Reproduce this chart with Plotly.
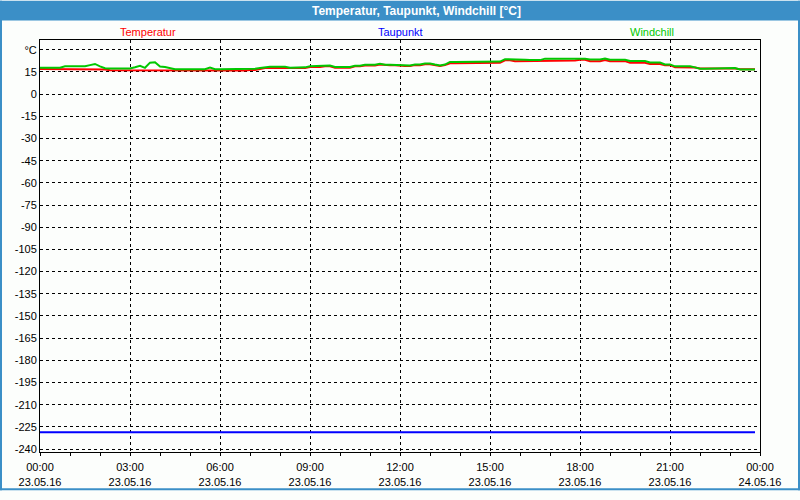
import plotly.graph_objects as go
import pandas as pd

# ---------------- data (10-minute samples, 23.05.16 00:00 .. 23:50) ----------------
start_time = "2016-05-23 00:00"
end_time = "2016-05-24 00:00"
sample_freq = "10min"

temperatur = [
    17.0, 17.0, 17.0, 17.0, 17.0, 16.6, 16.6, 16.6, 16.6, 16.6, 16.6, 16.6,
    16.6, 16.6, 16.1, 16.1, 16.1, 16.1, 16.1, 16.1, 16.1, 16.1, 16.1, 16.1,
    16.1, 16.1, 15.7, 15.7, 15.7, 15.7, 15.7, 15.7, 15.7, 15.7, 15.7, 15.7,
    15.9, 15.9, 15.9, 15.9, 15.9, 15.9, 16.3, 16.3, 17.0, 17.6, 17.6, 17.6,
    17.6, 17.6, 17.2, 17.2, 17.6, 17.6, 18.3, 18.3, 18.3, 18.9, 18.9, 17.9,
    17.9, 17.9, 17.9, 18.8, 18.8, 19.4, 19.4, 19.4, 20.0, 19.5, 19.5, 19.5,
    19.0, 19.0, 19.0, 19.6, 19.6, 20.2, 20.2, 19.6, 19.0, 19.6, 20.9, 20.9,
    20.9, 20.9, 20.9, 20.9, 21.3, 21.3, 21.3, 21.3, 21.3, 22.9, 22.9, 22.2,
    22.2, 22.2, 22.2, 22.2, 22.2, 22.7, 22.7, 22.7, 22.7, 22.7, 22.7, 22.7,
    23.2, 23.2, 22.3, 22.3, 22.3, 23.0, 22.3, 22.3, 22.3, 22.3, 21.2, 21.2,
    21.2, 21.2, 20.3, 20.3, 20.3, 19.6, 19.6, 18.2, 18.2, 18.2, 18.2, 18.0,
    17.3, 17.3, 17.3, 17.3, 17.3, 17.3, 17.8, 17.3, 16.8, 16.8, 16.8, 16.8,
]

windchill = [
    17.9, 17.9, 17.9, 17.9, 17.9, 18.8, 18.8, 18.8, 18.8, 18.8, 19.6, 20.4,
    18.8, 17.5, 17.4, 17.4, 17.4, 17.4, 17.4, 18.2, 19.2, 17.8, 21.3, 21.5,
    18.6, 18.4, 17.5, 16.9, 16.9, 16.9, 16.9, 16.9, 16.9, 16.9, 17.9, 16.9,
    16.9, 16.9, 17.2, 17.2, 17.2, 17.2, 17.2, 17.2, 17.6, 18.2, 18.5, 18.5,
    18.5, 18.5, 17.8, 17.8, 18.1, 18.1, 18.8, 18.8, 18.8, 19.3, 19.3, 18.4,
    18.4, 18.4, 18.4, 19.2, 19.2, 19.9, 19.9, 19.9, 20.5, 19.9, 19.9, 19.9,
    19.4, 19.4, 19.4, 20.0, 20.0, 20.7, 20.7, 20.0, 19.4, 20.0, 21.8, 21.8,
    21.8, 21.8, 21.8, 21.8, 22.3, 22.3, 22.0, 22.0, 22.0, 23.6, 23.6, 23.2,
    23.2, 23.2, 23.0, 23.0, 23.0, 24.0, 24.0, 24.0, 24.0, 24.0, 24.0, 24.0,
    24.0, 24.0, 23.4, 23.4, 23.4, 24.0, 23.3, 23.3, 23.3, 23.3, 22.4, 22.4,
    22.4, 22.4, 21.4, 21.4, 21.4, 20.1, 20.1, 18.8, 18.8, 18.8, 18.8, 18.1,
    17.2, 17.2, 17.2, 17.2, 17.2, 17.2, 17.2, 17.6, 16.7, 16.7, 16.7, 16.7,
]

taupunkt_value = -228.6
taupunkt = [taupunkt_value] * len(temperatur)

series_names = ["Temperatur", "Taupunkt", "Windchill"]
series_colors = ["#ff0000", "#0000ff", "#00c800"]

x_tick_times = ["2016-05-23 00:00", "2016-05-23 03:00", "2016-05-23 06:00",
                "2016-05-23 09:00", "2016-05-23 12:00", "2016-05-23 15:00",
                "2016-05-23 18:00", "2016-05-23 21:00", "2016-05-24 00:00"]
x_tick_text = ["00:00<br>23.05.16", "03:00<br>23.05.16", "06:00<br>23.05.16",
               "09:00<br>23.05.16", "12:00<br>23.05.16", "15:00<br>23.05.16",
               "18:00<br>23.05.16", "21:00<br>23.05.16", "00:00<br>24.05.16"]

y_tick_vals = [30, 15, 0, -15, -30, -45, -60, -75, -90, -105, -120, -135, -150,
               -165, -180, -195, -210, -225, -240]
y_tick_text = ["°C", "15", "0", "-15", "-30", "-45", "-60", "-75", "-90", "-105",
               "-120", "-135", "-150", "-165", "-180", "-195", "-210", "-225", "-240"]
y_range = [-242, 36.6]

title_text = "Temperatur, Taupunkt, Windchill [°C]"

# ---------------- figure ----------------
times = pd.date_range(start_time, periods=len(temperatur), freq=sample_freq)

W, H = 800, 500
L, R, T, B = 40, 40, 40, 39
pw, ph = W - L - R, H - T - B

def px(x):
    return (x - L) / pw

def py(y):
    return (H - B - y) / ph

FONT = "Liberation Sans"
BLUE_FRAME = "#3b8fc7"
BG = "#fcfefc"

fig = go.Figure()
for name, vals, col in zip(series_names, [temperatur, taupunkt, windchill], series_colors):
    fig.add_trace(go.Scatter(x=times, y=vals, mode="lines", name=name,
                             line=dict(color=col, width=2), showlegend=False))

shapes = [
    dict(type="rect", xref="paper", yref="paper", x0=px(0), x1=px(W), y0=py(20), y1=py(0),
         fillcolor=BLUE_FRAME, line=dict(width=0), layer="below"),
    dict(type="rect", xref="paper", yref="paper", x0=px(0), x1=px(2), y0=py(H), y1=py(0),
         fillcolor=BLUE_FRAME, line=dict(width=0), layer="below"),
    dict(type="rect", xref="paper", yref="paper", x0=px(W - 2), x1=px(W), y0=py(H), y1=py(0),
         fillcolor=BLUE_FRAME, line=dict(width=0), layer="below"),
    dict(type="rect", xref="paper", yref="paper", x0=px(0), x1=px(W), y0=py(H), y1=py(H - 2),
         fillcolor=BLUE_FRAME, line=dict(width=0), layer="below"),
]

label_x = [148, 400, 652]
annotations = [
    dict(text=n, x=px(xx), y=py(32), xref="paper", yref="paper", showarrow=False,
         xanchor="center", yanchor="middle", font=dict(family=FONT, size=11, color=c))
    for n, xx, c in zip(series_names, label_x, series_colors)
]
annotations.append(
    dict(text="<b>" + title_text + "</b>", x=px(416), y=py(10.5), xref="paper", yref="paper",
         showarrow=False, xanchor="center", yanchor="middle",
         font=dict(family=FONT, size=12, color="white"))
)

fig.update_layout(
    width=W, height=H,
    margin=dict(l=L, r=R, t=T, b=B, pad=0),
    paper_bgcolor=BG, plot_bgcolor=BG,
    shapes=shapes,
    annotations=annotations,
    font=dict(family=FONT, size=11, color="black"),
)

fig.update_xaxes(
    type="date", range=[start_time, end_time],
    tickvals=x_tick_times, ticktext=x_tick_text,
    ticks="outside", ticklen=3, tickcolor="black", tickwidth=1,
    minor=dict(ticks="outside", ticklen=3, dtick=3600000, tickcolor="black", showgrid=False),
    showgrid=True, gridcolor="black", gridwidth=1, griddash="3px,3px",
    showline=True, linecolor="black", linewidth=1, mirror=True,
    zeroline=False, tickfont=dict(family=FONT, size=11, color="black"),
    ticklabelstandoff=2,
    fixedrange=True,
)
fig.update_yaxes(
    range=y_range, tickvals=y_tick_vals, ticktext=y_tick_text,
    ticks="", showgrid=True, gridcolor="black", gridwidth=1, griddash="3px,3px",
    showline=True, linecolor="black", linewidth=1, mirror=True,
    zeroline=False, tickfont=dict(family=FONT, size=11, color="black"),
    fixedrange=True,
)

fig.write_html("out.html", config={"displayModeBar": False})
